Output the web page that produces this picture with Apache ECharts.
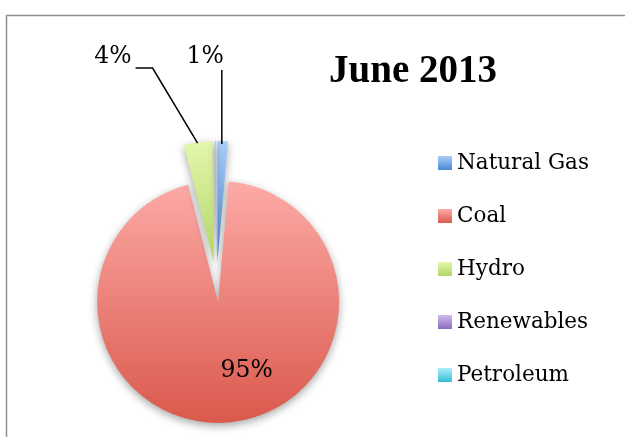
<!DOCTYPE html>
<html><head><meta charset="utf-8">
<script src="https://cdn.jsdelivr.net/npm/echarts@6/dist/echarts.min.js"></script>
<style>html,body{margin:0;padding:0;background:#fff}#c{width:625px;height:437px}</style>
</head><body><div id="c"></div>
<script>
const titleText = 'June 2013';
const categories = ['Natural Gas', 'Coal', 'Hydro', 'Renewables', 'Petroleum'];
const shares = [1.4, 94.6, 3.8, 0.15, 0.05];
const colorsTop = ['#abcdf8', '#fdaaa6', '#e4f7ae', '#cfbaea', '#a8eff9'];
const colorsBottom = ['#4a8ad6', '#da594d', '#b2d663', '#8c6dbe', '#36bbd7'];
const showLabel = [true, true, true, false, false];

const chart = echarts.init(document.getElementById('c'), null, {renderer: 'canvas'});
const serif = 'DejaVu Serif';
const center = [216.5, 282];
const radius = 121;

const grad = i => new echarts.graphic.LinearGradient(0, 0, 0, 1, [
  {offset: 0, color: colorsTop[i]},
  {offset: 1, color: colorsBottom[i]}
]);

// exploded slices (no labels)
const sliceData = categories.map((name, i) => ({
  name: name, value: shares[i], selected: true,
  itemStyle: {color: grad(i)}
}));

// label carrier (invisible sectors, same geometry, not exploded)
const labelData = categories.map((name, i) => ({
  name: name, value: shares[i],
  itemStyle: {color: 'rgba(0,0,0,0)'},
  label: {show: showLabel[i], position: i === 1 ? 'inside' : 'outside'},
  labelLine: {show: showLabel[i] && i !== 1}
}));

chart.setOption({
  animation: false,
  backgroundColor: '#fff',
  title: {
    text: titleText,
    left: 324, top: 47,
    textStyle: {fontFamily: 'Liberation Serif', fontWeight: 'bold', fontSize: 39, color: '#000'}
  },
  legend: {
    orient: 'vertical',
    left: 438, top: 152, padding: 0,
    itemWidth: 14, itemHeight: 14, itemGap: 31,
    icon: 'rect',
    itemStyle: {shadowBlur: 0, shadowColor: 'transparent', borderWidth: 0},
    textStyle: {fontFamily: serif, fontSize: 21.5, color: '#000', lineHeight: 22},
    data: categories.map((n, i) => ({name: n, itemStyle: {color: grad(i)}}))
  },
  graphic: [{
    type: 'rect', silent: true, z: -1,
    shape: {x: 6.5, y: 15.5, width: 700, height: 500},
    style: {fill: 'none', stroke: '#8f8f8f', lineWidth: 1.5}
  }],
  series: [{
    type: 'pie',
    center: center, radius: radius,
    startAngle: 90, clockwise: true,
    selectedMode: 'multiple', selectedOffset: 20,
    emphasis: {disabled: true},
    itemStyle: {shadowBlur: 8, shadowColor: 'rgba(0,0,0,0.35)', shadowOffsetY: 3, borderWidth: 0},
    label: {show: false}, labelLine: {show: false},
    data: sliceData
  }, {
    type: 'pie',
    center: center, radius: radius,
    startAngle: 90, clockwise: true,
    selectedMode: false, silent: true, z: 3,
    emphasis: {disabled: true},
    avoidLabelOverlap: false,
    label: {
      fontFamily: serif, fontSize: 23.5, color: '#000',
      formatter: p => Math.round(p.percent) + '%'
    },
    labelLine: {length: 30, length2: 15, lineStyle: {color: '#000', width: 1.5}},
    labelLayout: function (params) {
      const pts = params.labelLinePoints;
      if (params.dataIndex === 0 && pts) {
        const a = pts[0];
        return {
          x: a[0] + 2, y: a[1] - 104, align: 'right', verticalAlign: 'middle',
          labelLinePoints: [[a[0], a[1] - 17], [a[0], a[1] - 91], [a[0], a[1] - 91]]
        };
      }
      if (params.dataIndex === 2 && pts) {
        const a = pts[0];
        return {
          x: a[0] - 69, y: a[1] - 105, align: 'right', verticalAlign: 'middle',
          labelLinePoints: [[a[0] - 3, a[1] - 19], [a[0] - 48, a[1] - 94], [a[0] - 65, a[1] - 94]]
        };
      }
      if (params.dataIndex === 1) {
        return {dx: 25, dy: 26};
      }
      return {};
    },
    data: labelData
  }]
});
</script>
</body></html>
